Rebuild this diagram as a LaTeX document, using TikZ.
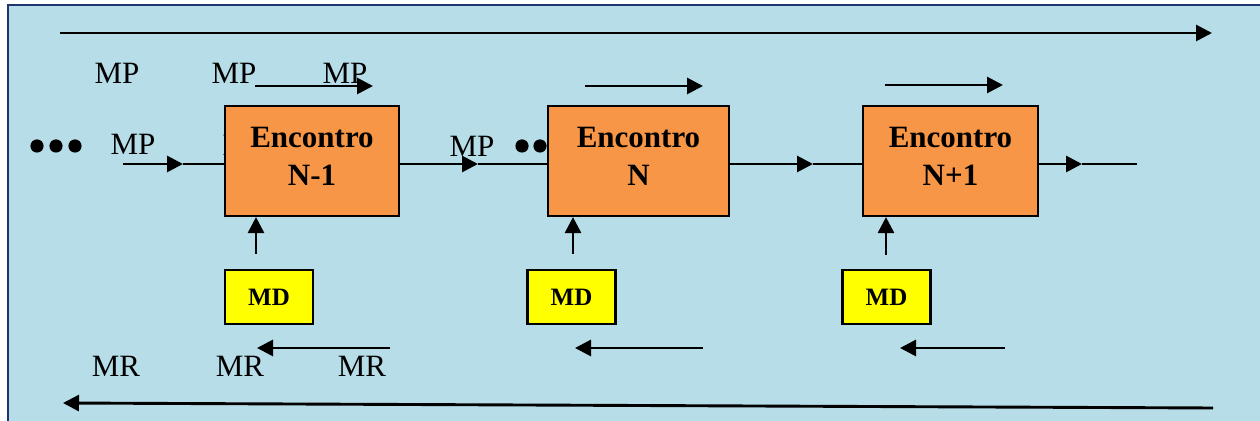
\documentclass[tikz,border=0pt]{standalone}
\usepackage{fontspec}
\setmainfont{Liberation Serif}
\usetikzlibrary{arrows.meta}
\definecolor{bgblue}{HTML}{B7DDE8}
\definecolor{navy}{HTML}{1F3470}
\definecolor{boxorange}{HTML}{F79646}
\definecolor{mdyellow}{HTML}{FFFF00}
\begin{document}
\begin{tikzpicture}[x=0.5pt,y=-0.5pt,
  tipped/.style={-{Triangle[length=8pt,width=8pt]}},
  flow/.style={line width=1.45pt, tipped},
  thinline/.style={line width=0.8pt},
  enc/.style={draw=black, line width=1.1pt, fill=boxorange, minimum height=55pt, inner sep=0pt},
  enctext/.style={font=\fontsize{15.5}{19}\bfseries\selectfont, align=center, inner sep=0pt},
  md/.style={draw=black, line width=1.1pt, fill=mdyellow, minimum width=44pt, minimum height=27pt, inner sep=0pt, font=\fontsize{12.5}{14}\bfseries\selectfont},
  lab/.style={font=\fontsize{15.5}{19}\selectfont, inner sep=0pt}]
\useasboundingbox (0,0) rectangle (1260,421);
\fill[white] (0,0) rectangle (1260,421);
\fill[bgblue] (8,5) rectangle (1260,421);
\draw[navy, line width=1.2pt] (8,421) -- (8,5) -- (1260,5);

% long arrows
\coordinate (ta) at (60,33); \coordinate (tb) at (1212,33);
\draw[flow] (ta) -- (tb);
\coordinate (ba) at (1213,408); \coordinate (bb) at (63,403);
\draw[flow] (ba) -- (bb);

% MP labels
\node[lab] (mp1) at (117,73) {MP};
\node[lab] (mp2) at (234,73) {MP};
\node[lab] (mp3) at (345,73) {MP};
\node[lab] (mp4) at (133,144) {MP};
\node[lab] (mph) at (245,145) {MP};
\node[lab] (mp5) at (472,146) {MP};

% MR labels
\node[lab] (mr1) at (116,366) {MR};
\node[lab] (mr2) at (240,366) {MR};
\node[lab] (mr3) at (362,366) {MR};

% dots
\fill (37,146) circle[radius=3.3pt];
\fill (56,146) circle[radius=3.3pt];
\fill (75,146) circle[radius=3.3pt];
\fill (522,146) circle[radius=3.3pt];
\fill (540,146) circle[radius=3.3pt];

% boxes
\node[enc, minimum width=87pt] (box1) at (312,161) {};
\node[enc, minimum width=90.5pt] (box2) at (638.5,161) {};
\node[enc, minimum width=87.5pt] (box3) at (950.5,161) {};
\node[enctext] (t1) at (312,156) {Encontro\\N-1};
\node[enctext] (t2) at (638.5,156) {Encontro\\N};
\node[enctext] (t3) at (950.5,156) {Encontro\\N+1};

% MD boxes
\node[md] (md1) at (269,297) {MD};
\node[md] (md2) at (571.5,297) {MD};
\node[md] (md3) at (886.5,297) {MD};

% main flow line
\coordinate (l0) at (123,164); \coordinate (m0) at (183,164);
\draw[flow] (l0) -- (m0); \draw[thinline] (m0) -- (m0 -| box1.west);
\coordinate (m1) at (478,164);
\draw[flow] (m1 -| box1.east) -- (m1); \draw[thinline] (m1) -- (m1 -| box2.west);
\coordinate (m2) at (813,164);
\draw[flow] (m2 -| box2.east) -- (m2); \draw[thinline] (m2) -- (m2 -| box3.west);
\coordinate (m3) at (1082,164); \coordinate (l4) at (1137,164);
\draw[flow] (m3 -| box3.east) -- (m3); \draw[thinline] (m3) -- (l4);

% short arrows above boxes
\coordinate (a1s) at (255,86); \coordinate (a1e) at (373,86);
\draw[flow] (a1s) -- (a1e);
\coordinate (a2s) at (585,86); \coordinate (a2e) at (703,86);
\draw[flow] (a2s) -- (a2e);
\coordinate (a3s) at (885,85); \coordinate (a3e) at (1003,85);
\draw[flow] (a3s) -- (a3e);

% short arrows below
\coordinate (b1s) at (390,348); \coordinate (b1e) at (257,348);
\draw[flow] (b1s) -- (b1e);
\coordinate (b2s) at (703,348); \coordinate (b2e) at (575,348);
\draw[flow] (b2s) -- (b2e);
\coordinate (b3s) at (1005,348); \coordinate (b3e) at (900,348);
\draw[flow] (b3s) -- (b3e);

% MD inputs
\coordinate (s1) at (256,254); \draw[flow] (s1) -- (s1 |- box1.south);
\coordinate (s2) at (573,254); \draw[flow] (s2) -- (s2 |- box2.south);
\coordinate (s3) at (886,255); \draw[flow] (s3) -- (s3 |- box3.south);
\end{tikzpicture}
\end{document}
